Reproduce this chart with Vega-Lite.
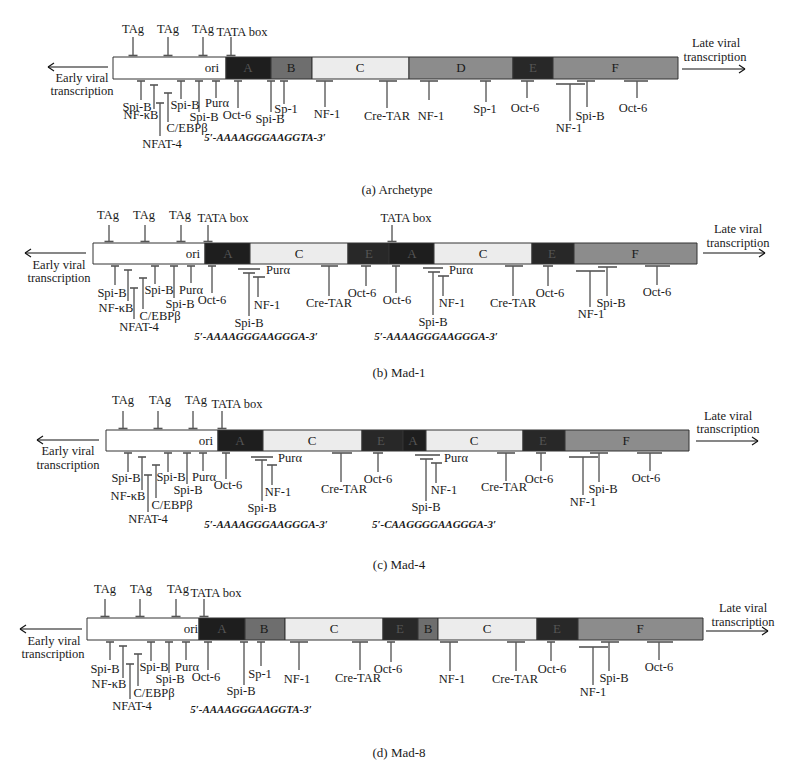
{
  "$schema": "https://vega.github.io/schema/vega-lite/v6.json",
  "width": 797,
  "height": 770,
  "autosize": {"type": "fit", "contains": "padding"},
  "padding": 0,
  "background": "white",
  "config": {"view": {"stroke": null}},
  "datasets": {
    "segs": [
      {"p":"a","s":"ori","x1":113,"x2":226,"y1":57,"y2":79,"lx":212,"ly":68},
      {"p":"a","s":"A","x1":226,"x2":271,"y1":57,"y2":79,"lx":248,"ly":68},
      {"p":"a","s":"B","x1":271,"x2":312,"y1":57,"y2":79,"lx":291,"ly":68},
      {"p":"a","s":"C","x1":312,"x2":409,"y1":57,"y2":79,"lx":360,"ly":68},
      {"p":"a","s":"D","x1":409,"x2":513,"y1":57,"y2":79,"lx":461,"ly":68},
      {"p":"a","s":"E","x1":513,"x2":553,"y1":57,"y2":79,"lx":533,"ly":68},
      {"p":"a","s":"F","x1":553,"x2":678,"y1":57,"y2":79,"lx":615,"ly":68},
      {"p":"b","s":"ori","x1":93,"x2":205,"y1":243,"y2":264,"lx":193,"ly":254},
      {"p":"b","s":"A","x1":205,"x2":250,"y1":243,"y2":264,"lx":228,"ly":254},
      {"p":"b","s":"C","x1":250,"x2":348,"y1":243,"y2":264,"lx":299,"ly":254},
      {"p":"b","s":"E","x1":348,"x2":389,"y1":243,"y2":264,"lx":369,"ly":254},
      {"p":"b","s":"A","x1":389,"x2":434,"y1":243,"y2":264,"lx":412,"ly":254},
      {"p":"b","s":"C","x1":434,"x2":532,"y1":243,"y2":264,"lx":483,"ly":254},
      {"p":"b","s":"E","x1":532,"x2":574,"y1":243,"y2":264,"lx":552,"ly":254},
      {"p":"b","s":"F","x1":574,"x2":697,"y1":243,"y2":264,"lx":635,"ly":254},
      {"p":"c","s":"ori","x1":106,"x2":218,"y1":430,"y2":451,"lx":206,"ly":441},
      {"p":"c","s":"A","x1":218,"x2":263,"y1":430,"y2":451,"lx":240,"ly":441},
      {"p":"c","s":"C","x1":263,"x2":362,"y1":430,"y2":451,"lx":312,"ly":441},
      {"p":"c","s":"E","x1":362,"x2":403,"y1":430,"y2":451,"lx":381,"ly":441},
      {"p":"c","s":"A","x1":403,"x2":426,"y1":430,"y2":451,"lx":413,"ly":441},
      {"p":"c","s":"C","x1":426,"x2":523,"y1":430,"y2":451,"lx":474,"ly":441},
      {"p":"c","s":"E","x1":523,"x2":565,"y1":430,"y2":451,"lx":543,"ly":441},
      {"p":"c","s":"F","x1":565,"x2":689,"y1":430,"y2":451,"lx":626,"ly":441},
      {"p":"d","s":"ori","x1":87,"x2":199,"y1":618,"y2":640,"lx":191,"ly":629},
      {"p":"d","s":"A","x1":199,"x2":245,"y1":618,"y2":640,"lx":222,"ly":629},
      {"p":"d","s":"B","x1":245,"x2":285,"y1":618,"y2":640,"lx":264,"ly":629},
      {"p":"d","s":"C","x1":285,"x2":383,"y1":618,"y2":640,"lx":334,"ly":629},
      {"p":"d","s":"E","x1":383,"x2":418,"y1":618,"y2":640,"lx":400,"ly":629},
      {"p":"d","s":"B","x1":418,"x2":438,"y1":618,"y2":640,"lx":428,"ly":629},
      {"p":"d","s":"C","x1":438,"x2":537,"y1":618,"y2":640,"lx":487,"ly":629},
      {"p":"d","s":"E","x1":537,"x2":578,"y1":618,"y2":640,"lx":557,"ly":629},
      {"p":"d","s":"F","x1":578,"x2":703,"y1":618,"y2":640,"lx":640,"ly":629}
    ],
    "stems": [
      {"x":133,"y1":37,"y2":55.5},{"x":168,"y1":37,"y2":55.5},{"x":203,"y1":37,"y2":55.5},{"x":231,"y1":37,"y2":55.5},
      {"x":109,"y1":225,"y2":241.5},{"x":145,"y1":225,"y2":241.5},{"x":181,"y1":225,"y2":241.5},{"x":208,"y1":225,"y2":241.5},{"x":392,"y1":225,"y2":241.5},
      {"x":123,"y1":411,"y2":428.5},{"x":158,"y1":411,"y2":428.5},{"x":193,"y1":411,"y2":428.5},{"x":222,"y1":411,"y2":428.5},
      {"x":105,"y1":599,"y2":616.5},{"x":140,"y1":599,"y2":616.5},{"x":176,"y1":599,"y2":616.5},{"x":204,"y1":599,"y2":616.5},
      {"x":141,"y1":81,"y2":100},{"x":154,"y1":85,"y2":109},{"x":160,"y1":103,"y2":136},{"x":168,"y1":93,"y2":122},{"x":181,"y1":81,"y2":99},{"x":199,"y1":81,"y2":112},{"x":216,"y1":81,"y2":98},{"x":238,"y1":81,"y2":108},{"x":271,"y1":81,"y2":112},{"x":284,"y1":81,"y2":104},{"x":325,"y1":81,"y2":107},{"x":387,"y1":81,"y2":108},{"x":429,"y1":81,"y2":100},{"x":486,"y1":81,"y2":102},{"x":527,"y1":81,"y2":98},{"x":570,"y1":84,"y2":121},{"x":587,"y1":81,"y2":107},{"x":637,"y1":81,"y2":98},
      {"x":115,"y1":266,"y2":285},{"x":128,"y1":270,"y2":301},{"x":134,"y1":288,"y2":319},{"x":143,"y1":278,"y2":309},{"x":155,"y1":266,"y2":284},{"x":174,"y1":266,"y2":298},{"x":191,"y1":266,"y2":283},{"x":212,"y1":266,"y2":293},{"x":249,"y1":273,"y2":316},{"x":258,"y1":277,"y2":297},{"x":329,"y1":266,"y2":296},{"x":366,"y1":266,"y2":286},{"x":396,"y1":266,"y2":293},{"x":433,"y1":272,"y2":315},{"x":443,"y1":276,"y2":296},{"x":513,"y1":266,"y2":296},{"x":548,"y1":266,"y2":286},{"x":590,"y1":271,"y2":307},{"x":607,"y1":267,"y2":296},{"x":657,"y1":266,"y2":285},
      {"x":128,"y1":453,"y2":472},{"x":142,"y1":457,"y2":490},{"x":148,"y1":475,"y2":512},{"x":156,"y1":465,"y2":498},{"x":168,"y1":453,"y2":472},{"x":187,"y1":453,"y2":484},{"x":203,"y1":453,"y2":471},{"x":226,"y1":453,"y2":479},{"x":262,"y1":460,"y2":501},{"x":272,"y1":465,"y2":485},{"x":341,"y1":453,"y2":482},{"x":378,"y1":453,"y2":472},{"x":426,"y1":459,"y2":501},{"x":436,"y1":463,"y2":483},{"x":506,"y1":453,"y2":481},{"x":541,"y1":453,"y2":471},{"x":583,"y1":457,"y2":495},{"x":599,"y1":453,"y2":482},{"x":650,"y1":453,"y2":471},
      {"x":110,"y1":642,"y2":660},{"x":123,"y1":646,"y2":678},{"x":130,"y1":664,"y2":699},{"x":138,"y1":654,"y2":686},{"x":151,"y1":642,"y2":661},{"x":169,"y1":642,"y2":673},{"x":186,"y1":642,"y2":660},{"x":208,"y1":642,"y2":670},{"x":244,"y1":642,"y2":685},{"x":261,"y1":642,"y2":666},{"x":299,"y1":642,"y2":670},{"x":360,"y1":642,"y2":670},{"x":391,"y1":642,"y2":662},{"x":450,"y1":642,"y2":671},{"x":516,"y1":642,"y2":671},{"x":551,"y1":642,"y2":661},{"x":593,"y1":647,"y2":685},{"x":609,"y1":642,"y2":671},{"x":659,"y1":642,"y2":660}
    ],
    "cbars": [
      {"x1":128.5,"x2":137.5,"y":55.5},{"x1":163.5,"x2":172.5,"y":55.5},{"x1":198.5,"x2":207.5,"y":55.5},{"x1":226.5,"x2":235.5,"y":55.5},
      {"x1":104.5,"x2":113.5,"y":241.5},{"x1":140.5,"x2":149.5,"y":241.5},{"x1":176.5,"x2":185.5,"y":241.5},{"x1":203.5,"x2":212.5,"y":241.5},{"x1":387.5,"x2":396.5,"y":241.5},
      {"x1":118.5,"x2":127.5,"y":428.5},{"x1":153.5,"x2":162.5,"y":428.5},{"x1":188.5,"x2":197.5,"y":428.5},{"x1":217.5,"x2":226.5,"y":428.5},
      {"x1":100.5,"x2":109.5,"y":616.5},{"x1":135.5,"x2":144.5,"y":616.5},{"x1":171.5,"x2":180.5,"y":616.5},{"x1":199.5,"x2":208.5,"y":616.5},
      {"x1":137,"x2":145,"y":81},{"x1":150,"x2":158,"y":85},{"x1":156,"x2":164,"y":103},{"x1":164,"x2":172,"y":93},{"x1":177,"x2":185,"y":81},{"x1":195,"x2":203,"y":81},{"x1":212,"x2":220,"y":81},{"x1":234,"x2":242,"y":81},{"x1":267,"x2":275,"y":81},{"x1":280,"x2":288,"y":81},{"x1":316,"x2":333,"y":81},{"x1":379,"x2":397,"y":81},{"x1":420,"x2":438,"y":81},{"x1":480,"x2":491,"y":81},{"x1":521,"x2":534,"y":81},{"x1":556,"x2":585,"y":84},{"x1":577,"x2":595,"y":81},{"x1":624,"x2":648,"y":81},
      {"x1":111,"x2":119,"y":266},{"x1":124,"x2":132,"y":270},{"x1":130,"x2":138,"y":288},{"x1":139,"x2":147,"y":278},{"x1":151,"x2":159,"y":266},{"x1":170,"x2":178,"y":266},{"x1":187,"x2":195,"y":266},{"x1":208,"x2":216,"y":266},{"x1":238,"x2":260,"y":269},{"x1":243,"x2":255,"y":273},{"x1":253,"x2":265,"y":277},{"x1":321,"x2":338,"y":266},{"x1":361,"x2":371,"y":266},{"x1":392,"x2":400,"y":266},{"x1":423,"x2":443,"y":268},{"x1":428,"x2":440,"y":272},{"x1":438,"x2":449,"y":276},{"x1":505,"x2":523,"y":266},{"x1":543,"x2":553,"y":266},{"x1":576,"x2":605,"y":271},{"x1":598,"x2":617,"y":267},{"x1":645,"x2":670,"y":266},
      {"x1":124,"x2":132,"y":453},{"x1":138,"x2":146,"y":457},{"x1":144,"x2":152,"y":475},{"x1":152,"x2":160,"y":465},{"x1":164,"x2":172,"y":453},{"x1":183,"x2":191,"y":453},{"x1":199,"x2":207,"y":453},{"x1":222,"x2":230,"y":453},{"x1":251,"x2":273,"y":457},{"x1":255,"x2":267,"y":460},{"x1":267,"x2":277,"y":465},{"x1":332,"x2":352,"y":453},{"x1":373,"x2":383,"y":453},{"x1":415,"x2":440,"y":455},{"x1":420,"x2":433,"y":459},{"x1":431,"x2":442,"y":463},{"x1":497,"x2":515,"y":453},{"x1":536,"x2":546,"y":453},{"x1":569,"x2":598,"y":457},{"x1":590,"x2":608,"y":453},{"x1":637,"x2":662,"y":453},
      {"x1":106,"x2":114,"y":642},{"x1":119,"x2":127,"y":646},{"x1":126,"x2":134,"y":664},{"x1":134,"x2":142,"y":654},{"x1":147,"x2":155,"y":642},{"x1":165,"x2":173,"y":642},{"x1":182,"x2":190,"y":642},{"x1":204,"x2":212,"y":642},{"x1":240,"x2":248,"y":642},{"x1":257,"x2":265,"y":642},{"x1":290,"x2":308,"y":642},{"x1":352,"x2":368,"y":642},{"x1":387,"x2":395,"y":642},{"x1":440,"x2":458,"y":642},{"x1":507,"x2":525,"y":642},{"x1":547,"x2":555,"y":642},{"x1":579,"x2":608,"y":647},{"x1":601,"x2":619,"y":642},{"x1":647,"x2":673,"y":642}
    ],
    "arrows": [
      {"x1":48,"y1":67,"x2":108,"y2":67},{"x1":48,"y1":67,"x2":54,"y2":63},{"x1":48,"y1":67,"x2":54,"y2":71},
      {"x1":682,"y1":69,"x2":745,"y2":69},{"x1":745,"y1":69,"x2":739,"y2":65},{"x1":745,"y1":69,"x2":739,"y2":73},
      {"x1":25,"y1":253,"x2":86,"y2":253},{"x1":25,"y1":253,"x2":31,"y2":249},{"x1":25,"y1":253,"x2":31,"y2":257},
      {"x1":703,"y1":253,"x2":765,"y2":253},{"x1":765,"y1":253,"x2":759,"y2":249},{"x1":765,"y1":253,"x2":759,"y2":257},
      {"x1":37,"y1":440,"x2":99,"y2":440},{"x1":37,"y1":440,"x2":43,"y2":436},{"x1":37,"y1":440,"x2":43,"y2":444},
      {"x1":696,"y1":441,"x2":758,"y2":441},{"x1":758,"y1":441,"x2":752,"y2":437},{"x1":758,"y1":441,"x2":752,"y2":445},
      {"x1":20,"y1":629,"x2":82,"y2":629},{"x1":20,"y1":629,"x2":26,"y2":625},{"x1":20,"y1":629,"x2":26,"y2":633},
      {"x1":706,"y1":631,"x2":768,"y2":631},{"x1":768,"y1":631,"x2":762,"y2":627},{"x1":768,"y1":631,"x2":762,"y2":635}
    ],
    "labels": [
      {"t":"TAg","x":133,"y":29},{"t":"TAg","x":168,"y":29},{"t":"TAg","x":203,"y":29},{"t":"TATA box","x":242,"y":32},
      {"t":"Spi-B","x":137,"y":107},{"t":"NF-κB","x":141,"y":115},{"t":"NFAT-4","x":162,"y":144},{"t":"C/EBPβ","x":187,"y":128},{"t":"Spi-B","x":185,"y":105},{"t":"Spi-B","x":204,"y":117},{"t":"Purα","x":217,"y":103},{"t":"Oct-6","x":237,"y":115},{"t":"Spi-B","x":270,"y":119},{"t":"Sp-1","x":286,"y":109},{"t":"NF-1","x":327,"y":114},{"t":"Cre-TAR","x":387,"y":116},{"t":"NF-1","x":431,"y":116},{"t":"Sp-1","x":485,"y":109},{"t":"Oct-6","x":525,"y":108},{"t":"NF-1","x":569,"y":128},{"t":"Spi-B","x":590,"y":116},{"t":"Oct-6","x":633,"y":108},
      {"t":"Early viral","x":82,"y":78},{"t":"transcription","x":82,"y":91},{"t":"Late viral","x":716,"y":43},{"t":"transcription","x":715,"y":57},
      {"t":"TAg","x":108,"y":215},{"t":"TAg","x":144,"y":215},{"t":"TAg","x":180,"y":215},{"t":"TATA box","x":223,"y":218},{"t":"TATA box","x":406,"y":218},
      {"t":"Spi-B","x":112,"y":293},{"t":"NF-κB","x":116,"y":308},{"t":"NFAT-4","x":139,"y":327},{"t":"C/EBPβ","x":160,"y":316},{"t":"Spi-B","x":159,"y":290},{"t":"Spi-B","x":180,"y":304},{"t":"Purα","x":191,"y":290},{"t":"Oct-6","x":212,"y":300},{"t":"Spi-B","x":249,"y":323},{"t":"Purα","x":278,"y":270},{"t":"NF-1","x":267,"y":305},{"t":"Cre-TAR","x":329,"y":303},{"t":"Oct-6","x":362,"y":293},{"t":"Oct-6","x":397,"y":300},{"t":"Spi-B","x":433,"y":322},{"t":"Purα","x":461,"y":270},{"t":"NF-1","x":452,"y":303},{"t":"Cre-TAR","x":513,"y":303},{"t":"Oct-6","x":550,"y":293},{"t":"NF-1","x":591,"y":314},{"t":"Spi-B","x":611,"y":303},{"t":"Oct-6","x":657,"y":292},
      {"t":"Early viral","x":59,"y":265},{"t":"transcription","x":59,"y":278},{"t":"Late viral","x":738,"y":229},{"t":"transcription","x":738,"y":243},
      {"t":"TAg","x":123,"y":400},{"t":"TAg","x":160,"y":400},{"t":"TAg","x":196,"y":400},{"t":"TATA box","x":237,"y":404},
      {"t":"Spi-B","x":126,"y":478},{"t":"NF-κB","x":128,"y":496},{"t":"NFAT-4","x":148,"y":519},{"t":"C/EBPβ","x":172,"y":505},{"t":"Spi-B","x":171,"y":477},{"t":"Spi-B","x":188,"y":490},{"t":"Purα","x":204,"y":477},{"t":"Oct-6","x":228,"y":485},{"t":"Spi-B","x":262,"y":508},{"t":"Purα","x":290,"y":458},{"t":"NF-1","x":278,"y":492},{"t":"Cre-TAR","x":344,"y":489},{"t":"Oct-6","x":378,"y":479},{"t":"Spi-B","x":426,"y":507},{"t":"Purα","x":456,"y":458},{"t":"NF-1","x":444,"y":490},{"t":"Cre-TAR","x":504,"y":487},{"t":"Oct-6","x":539,"y":479},{"t":"NF-1","x":583,"y":502},{"t":"Spi-B","x":603,"y":489},{"t":"Oct-6","x":646,"y":478},
      {"t":"Early viral","x":68,"y":451},{"t":"transcription","x":68,"y":465},{"t":"Late viral","x":728,"y":416},{"t":"transcription","x":728,"y":429},
      {"t":"TAg","x":105,"y":589},{"t":"TAg","x":141,"y":589},{"t":"TAg","x":178,"y":589},{"t":"TATA box","x":216,"y":593},
      {"t":"Spi-B","x":105,"y":669},{"t":"NF-κB","x":109,"y":684},{"t":"NFAT-4","x":132,"y":706},{"t":"C/EBPβ","x":154,"y":693},{"t":"Spi-B","x":154,"y":667},{"t":"Spi-B","x":170,"y":679},{"t":"Purα","x":187,"y":667},{"t":"Oct-6","x":206,"y":677},{"t":"Spi-B","x":241,"y":691},{"t":"Sp-1","x":260,"y":674},{"t":"NF-1","x":297,"y":679},{"t":"Cre-TAR","x":358,"y":678},{"t":"Oct-6","x":388,"y":669},{"t":"NF-1","x":452,"y":679},{"t":"Cre-TAR","x":515,"y":679},{"t":"Oct-6","x":552,"y":669},{"t":"NF-1","x":593,"y":692},{"t":"Spi-B","x":614,"y":678},{"t":"Oct-6","x":659,"y":667},
      {"t":"Early viral","x":54,"y":641},{"t":"transcription","x":53,"y":654},{"t":"Late viral","x":743,"y":608},{"t":"transcription","x":743,"y":622}
    ],
    "seqs": [
      {"t":"5′-AAAAGGGAAGGTA-3′","x":265,"y":138},
      {"t":"5′-AAAAGGGAAGGGA-3′","x":256,"y":337},
      {"t":"5′-AAAAGGGAAGGGA-3′","x":436,"y":337},
      {"t":"5′-AAAAGGGAAGGGA-3′","x":266,"y":525},
      {"t":"5′-CAAGGGGAAGGGA-3′","x":434,"y":525},
      {"t":"5′-AAAAGGGAAGGTA-3′","x":251,"y":710}
    ],
    "captions": [
      {"t":"(a)  Archetype","x":397,"y":190},
      {"t":"(b)  Mad-1","x":399,"y":373},
      {"t":"(c)  Mad-4","x":399,"y":565},
      {"t":"(d)  Mad-8","x":399,"y":753}
    ]
  },
  "layer": [
    {
      "data": {"name": "segs"},
      "mark": {"type": "rect", "stroke": "#333333", "strokeWidth": 1},
      "encoding": {
        "x": {"field": "x1", "type": "quantitative", "scale": {"domain": [0, 797], "nice": false, "zero": false}, "axis": null},
        "x2": {"field": "x2"},
        "y": {"field": "y1", "type": "quantitative", "scale": {"domain": [0, 770], "nice": false, "zero": false, "reverse": true}, "axis": null},
        "y2": {"field": "y2"},
        "fill": {"field": "s", "type": "nominal", "legend": null,
          "scale": {"domain": ["ori", "A", "B", "C", "D", "E", "F"], "range": ["#ffffff", "#1e1e1e", "#6e6e6e", "#ececec", "#8c8c8c", "#282828", "#8c8c8c"]}}
      }
    },
    {
      "data": {"name": "segs"},
      "mark": {"type": "text", "font": "Liberation Serif", "fontSize": 13, "baseline": "middle", "align": "center"},
      "encoding": {
        "x": {"field": "lx", "type": "quantitative"},
        "y": {"field": "ly", "type": "quantitative"},
        "text": {"field": "s"},
        "color": {"condition": {"test": "datum.s === 'A' || datum.s === 'E'", "value": "#555555"}, "value": "#1a1a1a"}
      }
    },
    {
      "data": {"name": "stems"},
      "mark": {"type": "rule", "color": "#1a1a1a", "strokeWidth": 1},
      "encoding": {
        "x": {"field": "x", "type": "quantitative"},
        "y": {"field": "y1", "type": "quantitative"},
        "y2": {"field": "y2"}
      }
    },
    {
      "data": {"name": "cbars"},
      "mark": {"type": "rule", "color": "#555555", "strokeWidth": 1.6},
      "encoding": {
        "x": {"field": "x1", "type": "quantitative"},
        "x2": {"field": "x2"},
        "y": {"field": "y", "type": "quantitative"}
      }
    },
    {
      "data": {"name": "arrows"},
      "mark": {"type": "rule", "color": "#111111", "strokeWidth": 1.2},
      "encoding": {
        "x": {"field": "x1", "type": "quantitative"},
        "x2": {"field": "x2"},
        "y": {"field": "y1", "type": "quantitative"},
        "y2": {"field": "y2"}
      }
    },
    {
      "data": {"name": "labels"},
      "mark": {"type": "text", "font": "Liberation Serif", "fontSize": 12.5, "baseline": "middle", "align": "center", "color": "#1a1a1a"},
      "encoding": {
        "x": {"field": "x", "type": "quantitative"},
        "y": {"field": "y", "type": "quantitative"},
        "text": {"field": "t"}
      }
    },
    {
      "data": {"name": "seqs"},
      "mark": {"type": "text", "font": "Liberation Serif", "fontSize": 11, "fontStyle": "italic", "fontWeight": "bold", "baseline": "middle", "align": "center", "color": "#1a1a1a"},
      "encoding": {
        "x": {"field": "x", "type": "quantitative"},
        "y": {"field": "y", "type": "quantitative"},
        "text": {"field": "t"}
      }
    },
    {
      "data": {"name": "captions"},
      "mark": {"type": "text", "font": "Liberation Serif", "fontSize": 13, "baseline": "middle", "align": "center", "color": "#1a1a1a"},
      "encoding": {
        "x": {"field": "x", "type": "quantitative"},
        "y": {"field": "y", "type": "quantitative"},
        "text": {"field": "t"}
      }
    }
  ]
}
